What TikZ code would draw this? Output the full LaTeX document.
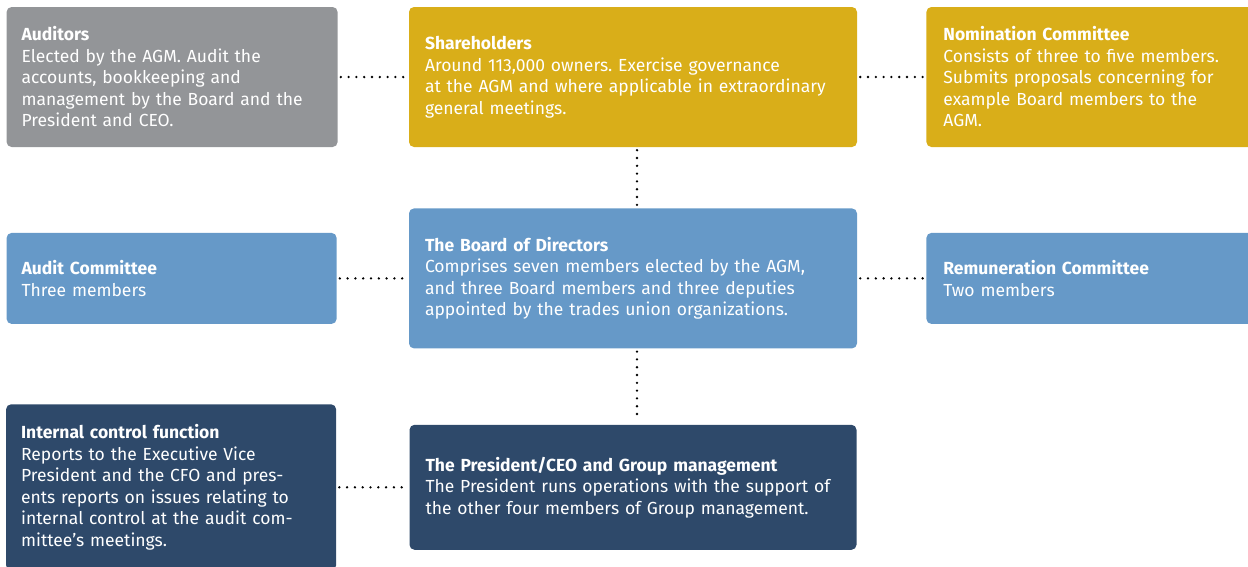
\documentclass[tikz,border=0pt]{standalone}
\usepackage{fontspec}
\setmainfont{Fira Sans}
\usetikzlibrary{positioning}

\definecolor{auditgray}{RGB}{147,149,152}
\definecolor{ownergold}{RGB}{217,174,25}
\definecolor{boardblue}{RGB}{102,153,200}
\definecolor{mgmtnavy}{RGB}{46,73,106}

\frenchspacing

\begin{document}
\begin{tikzpicture}[
				x=1pt, y=-1pt,
				box/.style={rounded corners=5pt, text=white, align=left, inner xsep=16pt, inner ysep=0pt,
					font=\fontsize{17.5}{21.5}\selectfont},
				link/.style={line width=2.6pt, line cap=round, dash pattern=on 0pt off 7.8pt, shorten <=3pt, shorten >=3pt},
			]
				\useasboundingbox (0,0) rectangle (1248,566);

				% top row
				\node[box, fill=ownergold, text width=416pt, minimum height=140pt] (shareholders) at (633,77)
					{\textbf{Shareholders}\\Around 113,000 owners. Exercise governance\\at the AGM and where applicable in extraordinary\\general meetings.};
				\node[box, fill=auditgray, inner xsep=15pt, text width=301pt, minimum height=140pt, left=71pt of shareholders] (auditors)
					{\textbf{Auditors}\\Elected by the AGM. Audit the\\accounts, bookkeeping and\\management by the Board and the\\President and CEO.};
				\node[box, fill=ownergold, inner xsep=17pt, text width=297pt, minimum height=140pt, right=69pt of shareholders] (nomination)
					{\textbf{Nomination Committee}\\Consists of three to five members.\\Submits proposals concerning for\\example Board members to the\\AGM.};

				% middle row
				\node[box, fill=boardblue, text width=416pt, minimum height=140pt, below=61pt of shareholders] (board)
					{\textbf{The Board of Directors}\\Comprises seven members elected by the AGM,\\and three Board members and three deputies\\appointed by the trades union organizations.};
				\node[box, fill=boardblue, inner xsep=15pt, text width=300pt, minimum height=91pt, left=72pt of board] (audit committee)
					{\textbf{Audit Committee}\\Three members};
				\node[box, fill=boardblue, inner xsep=17pt, text width=297pt, minimum height=91pt, right=69pt of board] (remuneration)
					{\textbf{Remuneration Committee}\\Two members};

				% bottom row
				\node[box, fill=mgmtnavy, text width=415pt, minimum height=125pt, below=76pt of board] (president)
					{\textbf{The President/CEO and Group management}\\The President runs operations with the support of\\the other four members of Group management.};
				\node[box, fill=mgmtnavy, inner xsep=15pt, text width=300pt, minimum height=166pt, left=73pt of president] (internal control)
					{\textbf{Internal control function}\\Reports to the Executive Vice\\President and the CFO and pres-\\ents reports on issues relating to\\internal control at the audit com-\\mittee's meetings.};

				\draw[link] (auditors) -- (shareholders);
				\draw[link] (shareholders) -- (nomination);
				\draw[link] ([xshift=4pt]shareholders.south) -- ([xshift=4pt]board.north);
				\draw[link] (audit committee) -- (board);
				\draw[link] (board) -- (remuneration);
				\draw[link] ([xshift=4pt]board.south) -- ([xshift=4pt]president.north);
				\draw[link] (internal control.east|-president.west) -- (president.west);
			\end{tikzpicture}
\end{document}
